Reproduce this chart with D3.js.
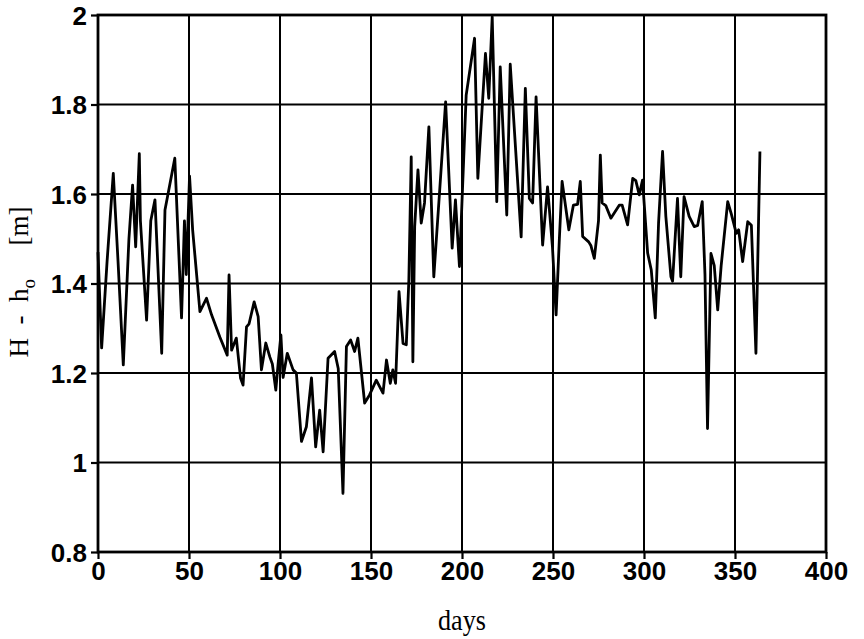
<!DOCTYPE html>
<html>
<head>
<meta charset="utf-8">
<script src="https://cdn.jsdelivr.net/npm/d3@7"></script>
<style>
  body { margin: 0; background: #fff; }
  .tick text { font-family: "Liberation Sans", Arial, sans-serif; font-weight: bold; }
</style>
</head>
<body>
<div id="chart-area"></div>
<script>
// water level series
const days = [0, 2, 5, 8.4, 11, 13.9, 17, 19, 20.7, 22.7, 23.3, 26.7, 29, 31.3, 35, 36.8, 42.2, 45.9, 47.5, 48.5,
  50.3, 52, 56, 59.6, 62.4, 67, 71, 72, 73.4, 76, 78.3, 79.7, 81.6, 83, 85.8, 88, 89.8, 92.2, 94.4, 95.8,
  97.7, 99, 100.5, 101.7, 104, 107.2, 109, 111.8, 114.5, 117.3, 119.6, 121.8, 123.7, 126.4, 130, 132, 134.6, 136.5, 138.8, 141,
  142.8, 146.5, 149.2, 152.9, 156.6, 158.5, 160.6, 162, 163.5, 165.4, 167.6, 169.4, 170.8, 172.1, 173, 174, 175.8, 177.6, 179.4, 181.8,
  184.5, 187.6, 191, 194.6, 196.4, 198.6, 202.3, 206.9, 208.7, 212.9, 214.7, 216.6, 219.1, 221, 224.6, 226.5, 232.5, 234.8, 237, 238.8,
  240.7, 244.3, 247, 249.7, 251.7, 253.5, 255, 258.7, 261.2, 263.5, 265, 266.3, 269.6, 270.8, 272.7, 275, 276, 277, 279, 281.8,
  286.4, 288, 291, 293.8, 295.5, 297.4, 299.2, 302, 304, 306.2, 308, 310.2, 312, 314.8, 315.7, 318.4, 320.2, 322, 324.8, 327.6,
  329.5, 332, 333.5, 334.9, 336.8, 338.6, 340.5, 342.4, 346, 348, 350.7, 352, 354.2, 357, 359, 361.5, 363.7];
const levels = [1.47, 1.256, 1.45, 1.646, 1.45, 1.218, 1.5, 1.62, 1.482, 1.69, 1.54, 1.318, 1.54, 1.587, 1.244, 1.564, 1.68, 1.323, 1.54, 1.42,
  1.64, 1.52, 1.337, 1.367, 1.33, 1.28, 1.24, 1.419, 1.251, 1.278, 1.189, 1.173, 1.303, 1.31, 1.359, 1.326, 1.207, 1.267, 1.236, 1.22,
  1.162, 1.222, 1.285, 1.19, 1.244, 1.207, 1.2, 1.047, 1.08, 1.189, 1.035, 1.117, 1.024, 1.233, 1.248, 1.21, 0.931, 1.259, 1.274, 1.248,
  1.278, 1.133, 1.151, 1.184, 1.155, 1.229, 1.177, 1.207, 1.177, 1.382, 1.266, 1.263, 1.408, 1.683, 1.225, 1.527, 1.654, 1.535, 1.58, 1.75,
  1.415, 1.6, 1.806, 1.479, 1.587, 1.438, 1.821, 1.948, 1.635, 1.914, 1.814, 1.996, 1.583, 1.884, 1.553, 1.89, 1.504, 1.836, 1.59, 1.58,
  1.817, 1.486, 1.616, 1.482, 1.33, 1.5, 1.628, 1.52, 1.575, 1.577, 1.628, 1.505, 1.493, 1.485, 1.456, 1.54, 1.687, 1.58, 1.574, 1.546,
  1.575, 1.575, 1.531, 1.635, 1.63, 1.598, 1.631, 1.468, 1.43, 1.323, 1.535, 1.695, 1.55, 1.415, 1.405, 1.59, 1.415, 1.594, 1.55, 1.527,
  1.53, 1.583, 1.42, 1.076, 1.467, 1.44, 1.341, 1.44, 1.583, 1.555, 1.512, 1.52, 1.449, 1.538, 1.53, 1.244, 1.695];

const xTicks = [0, 50, 100, 150, 200, 250, 300, 350, 400];
const yTicks = [0.8, 1, 1.2, 1.4, 1.6, 1.8, 2];

// canvas size
const svgWidth = 864,
      svgHeight = 639;
const margin = { left: 98, right: 38, top: 15, bottom: 87 };
const chartWidth = svgWidth - margin.left - margin.right,
      chartHeight = svgHeight - margin.top - margin.bottom;

const svg = d3.select("#chart-area").append("svg")
    .attr("width", svgWidth)
    .attr("height", svgHeight);

const g = svg.append("g")
    .attr("transform", "translate(" + margin.left + "," + margin.top + ")");

// Scales
const xScale = d3.scaleLinear().domain([0, 400]).range([0, chartWidth]);
const yScale = d3.scaleLinear().domain([0.8, 2]).range([chartHeight, 0]);

// grid lines
g.append("g").selectAll("line").data(xTicks).join("line")
    .attr("x1", d => xScale(d)).attr("x2", d => xScale(d))
    .attr("y1", 0).attr("y2", chartHeight)
    .attr("stroke", "#000").attr("stroke-width", 2);
g.append("g").selectAll("line").data(yTicks).join("line")
    .attr("x1", 0).attr("x2", chartWidth)
    .attr("y1", d => yScale(d)).attr("y2", d => yScale(d))
    .attr("stroke", "#000").attr("stroke-width", 2);

// Axes
const fmt = d => String(+d.toFixed(1));
const xAxis = g.append("g")
    .attr("transform", "translate(0," + chartHeight + ")")
    .call(d3.axisBottom(xScale).tickValues(xTicks).tickSize(7).tickPadding(3).tickFormat(fmt));
const yAxis = g.append("g")
    .call(d3.axisLeft(yScale).tickValues(yTicks).tickSize(7).tickPadding(4).tickFormat(fmt));
[xAxis, yAxis].forEach(a => {
    a.select(".domain").remove();
    a.selectAll(".tick line").attr("stroke-width", 2.2);
    a.selectAll(".tick text").attr("font-size", 26).attr("fill", "#000");
});
yAxis.selectAll(".tick text").attr("dy", "0.36em");

// frame
g.append("rect")
    .attr("width", chartWidth).attr("height", chartHeight)
    .attr("fill", "none").attr("stroke", "#000").attr("stroke-width", 2.8);

// data line
const line = d3.line()
    .x((d, i) => xScale(days[i]))
    .y(d => yScale(d));
g.append("path")
    .attr("fill", "none")
    .attr("stroke", "#000")
    .attr("stroke-width", 2.8)
    .attr("stroke-linejoin", "round")
    .attr("d", line(levels));

// Axis labels
g.append("text")
    .attr("x", chartWidth / 2)
    .attr("y", chartHeight + 78)
    .attr("text-anchor", "middle")
    .attr("font-family", "Liberation Serif, Times New Roman, serif")
    .attr("font-size", 29)
    .attr("transform", "translate(" + (chartWidth / 2) + ",0) scale(0.9,1) translate(" + (-chartWidth / 2) + ",0)")
    .text("days");

const yLabel = svg.append("text")
    .attr("transform", "translate(28," + 282 + ") rotate(-90)")
    .attr("text-anchor", "middle")
    .attr("font-family", "Liberation Serif, Times New Roman, serif")
    .attr("font-size", 27);
yLabel.append("tspan").text("H\u2002-\u2002h");
yLabel.append("tspan").attr("font-size", 19).attr("dy", 7).text("o");
yLabel.append("tspan").attr("dy", -7).text("\u2003 [m]");
</script>
</body>
</html>
